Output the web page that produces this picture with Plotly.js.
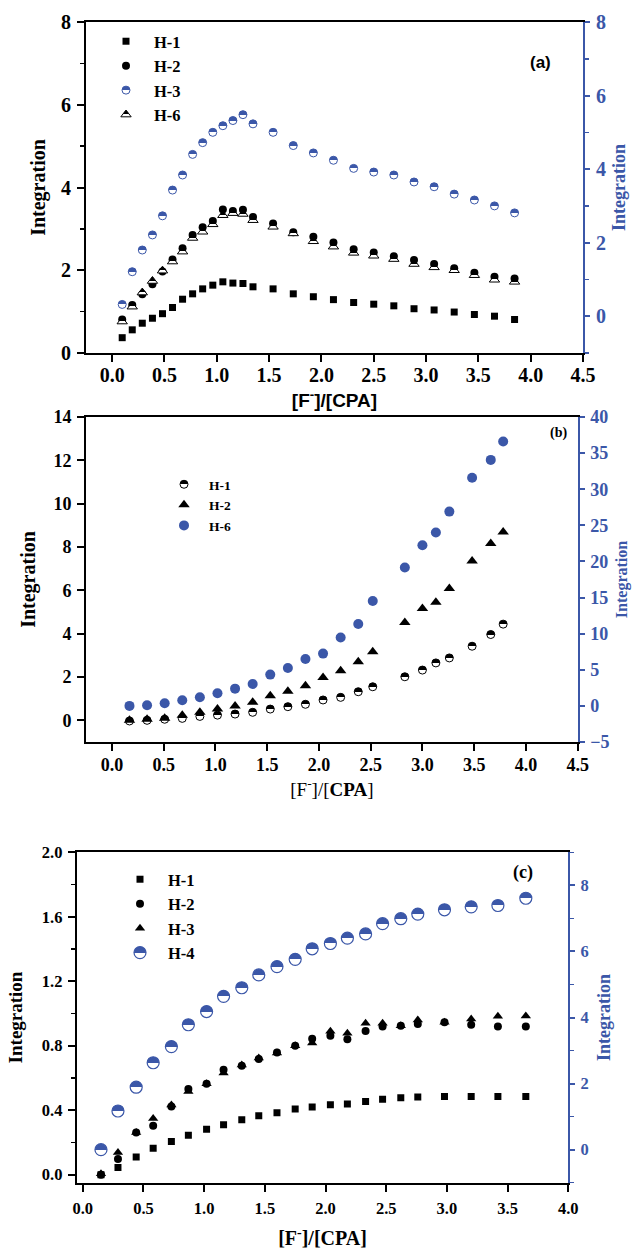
<!DOCTYPE html>
<html>
<head>
<meta charset="utf-8">
<script src="https://cdn.plot.ly/plotly-3.0.1.min.js"></script>
<style>
html,body{margin:0;padding:0;background:#fff;}
#chart{width:636px;height:1249px;}
</style>
</head>
<body>
<div id="chart"></div>
<script>
// ---------- Panel (a) ----------
const xA = [0.096,0.192,0.288,0.385,0.481,0.577,0.673,0.769,0.865,0.962,1.058,1.154,1.25,1.346,1.538,1.731,1.923,2.115,2.308,2.5,2.692,2.885,3.077,3.269,3.462,3.654,3.846];
const aH1 = [0.37,0.56,0.72,0.84,0.95,1.10,1.30,1.43,1.55,1.64,1.72,1.69,1.68,1.60,1.55,1.43,1.36,1.29,1.22,1.18,1.14,1.07,1.04,0.99,0.93,0.89,0.81];
const aH2 = [0.81,1.16,1.42,1.66,1.97,2.26,2.53,2.85,3.04,3.19,3.47,3.43,3.46,3.29,3.13,2.92,2.81,2.67,2.51,2.43,2.34,2.25,2.15,2.05,1.94,1.84,1.80];
const aH3 = [0.32,1.21,1.80,2.21,2.73,3.43,3.84,4.40,4.72,5.00,5.18,5.32,5.48,5.23,5.00,4.64,4.44,4.24,4.02,3.92,3.84,3.65,3.52,3.32,3.16,3.00,2.81];
const aH6 = [0.76,1.12,1.46,1.74,1.99,2.21,2.45,2.78,2.93,3.11,3.33,3.38,3.36,3.21,3.05,2.89,2.70,2.57,2.42,2.35,2.27,2.15,2.07,2.00,1.88,1.77,1.72];

// ---------- Panel (b) ----------
const xB = [0.17,0.34,0.51,0.68,0.85,1.02,1.19,1.36,1.53,1.70,1.87,2.04,2.21,2.38,2.52,2.83,3.00,3.13,3.26,3.48,3.66,3.78];
const bH1 = [-0.03,0.00,0.05,0.09,0.18,0.24,0.29,0.37,0.52,0.63,0.74,0.94,1.06,1.32,1.55,2.01,2.32,2.65,2.88,3.42,3.96,4.44];
const bH2 = [0.00,0.05,0.10,0.24,0.37,0.52,0.66,0.84,1.13,1.34,1.60,1.98,2.29,2.70,3.16,4.52,5.16,5.45,6.08,7.35,8.16,8.69];
const bH6 = [0.00,0.08,0.36,0.78,1.19,1.74,2.39,3.04,4.33,5.25,6.50,7.24,9.46,11.34,14.53,19.15,22.24,24.00,26.90,31.60,34.06,36.60];

// ---------- Panel (c) ----------
const xC = [0.15,0.29,0.44,0.58,0.73,0.87,1.02,1.16,1.31,1.45,1.60,1.75,1.89,2.04,2.18,2.33,2.47,2.62,2.76,2.98,3.20,3.42,3.65];
const cH1 = [0.000,0.045,0.110,0.163,0.205,0.244,0.281,0.310,0.341,0.366,0.384,0.407,0.420,0.434,0.438,0.454,0.467,0.477,0.481,0.485,0.485,0.485,0.485];
const cH2 = [0.000,0.097,0.262,0.304,0.423,0.531,0.564,0.651,0.676,0.717,0.758,0.800,0.843,0.862,0.840,0.892,0.919,0.924,0.934,0.945,0.930,0.919,0.919];
const cH3 = [0.006,0.138,0.262,0.349,0.432,0.516,0.564,0.630,0.680,0.723,0.754,0.800,0.817,0.889,0.878,0.940,0.940,0.924,0.960,0.945,0.965,0.983,0.985];
const cH4 = [0.00,1.17,1.89,2.63,3.12,3.78,4.18,4.64,4.90,5.29,5.54,5.76,6.08,6.24,6.40,6.53,6.84,6.99,7.13,7.26,7.35,7.39,7.61];

const yTitle = 'Integration';
const BLUE = '#3b57a8';
const SERIF = '"Liberation Serif", "Times New Roman", Times, serif';
const SANS = '"Liberation Sans", Arial, Helvetica, sans-serif';
const W = 636, H = 1249;
const px = v => v / W;
const py = v => 1 - v / H;

function ax(color, size, extra) {
  return Object.assign({
    showline: true, linewidth: 2, linecolor: color,
    ticks: 'outside', ticklen: 7, tickwidth: 2, tickcolor: color,
    tickfont: {family: SERIF, size: size, color: color, weight: 700},
    showgrid: false, zeroline: false, fixedrange: true,
    ticklabelstandoff: 2
  }, extra);
}
function minor(color, d) {
  return {dtick: d, ticks: 'outside', ticklen: 4, tickwidth: 1.5, tickcolor: color, showgrid: false};
}

const data = [
  // (a)
  {x: xA, y: aH1, xaxis: 'x', yaxis: 'y', name: 'H-1', legend: 'legend', mode: 'markers', uid: 'a1',
   marker: {symbol: 'square', size: 7, color: '#000'}},
  {x: xA, y: aH2, xaxis: 'x', yaxis: 'y', name: 'H-2', legend: 'legend', mode: 'markers', uid: 'a2',
   marker: {symbol: 'circle', size: 8, color: '#000'}},
  {x: xA, y: aH3, xaxis: 'x', yaxis: 'y2', name: 'H-3', legend: 'legend', mode: 'markers', uid: 'a3',
   marker: {symbol: 'circle', size: 8, color: '#fff', line: {color: BLUE, width: 1}}},
  {x: xA, y: aH6, xaxis: 'x', yaxis: 'y', name: 'H-6', legend: 'legend', mode: 'markers', uid: 'a6',
   marker: {symbol: 'triangle-up', size: 9, color: '#fff', line: {color: '#000', width: 1}}},
  // (b)
  {x: xB, y: bH1, xaxis: 'x2', yaxis: 'y3', name: 'H-1', legend: 'legend2', mode: 'markers', uid: 'b1',
   marker: {symbol: 'circle', size: 8, color: '#fff', line: {color: '#000', width: 1}}},
  {x: xB, y: bH2, xaxis: 'x2', yaxis: 'y3', name: 'H-2', legend: 'legend2', mode: 'markers', uid: 'b2',
   marker: {symbol: 'triangle-up', size: 10, color: '#000'}},
  {x: xB, y: bH6, xaxis: 'x2', yaxis: 'y4', name: 'H-6', legend: 'legend2', mode: 'markers', uid: 'b6',
   marker: {symbol: 'circle', size: 10, color: BLUE}},
  // (c)
  {x: xC, y: cH1, xaxis: 'x3', yaxis: 'y5', name: 'H-1', legend: 'legend3', mode: 'markers', uid: 'c1',
   marker: {symbol: 'square', size: 7, color: '#000'}},
  {x: xC, y: cH2, xaxis: 'x3', yaxis: 'y5', name: 'H-2', legend: 'legend3', mode: 'markers', uid: 'c2',
   marker: {symbol: 'circle', size: 8, color: '#000'}},
  {x: xC, y: cH3, xaxis: 'x3', yaxis: 'y5', name: 'H-3', legend: 'legend3', mode: 'markers', uid: 'c3',
   marker: {symbol: 'triangle-up', size: 9, color: '#000'}},
  {x: xC, y: cH4, xaxis: 'x3', yaxis: 'y6', name: 'H-4', legend: 'legend3', mode: 'markers', uid: 'c4',
   marker: {symbol: 'circle', size: 12, color: '#fff', line: {color: BLUE, width: 1.2}}}
];

function legendCfg(x, y, size, iw) {
  return {x: x, y: y, xanchor: 'left', yanchor: 'top', bgcolor: 'rgba(0,0,0,0)', borderwidth: 0,
          font: {family: SERIF, size: size, color: '#000', weight: 'bold'}, itemwidth: iw, tracegroupgap: 0};
}

const layout = {
  width: W, height: H,
  margin: {l: 0, r: 0, t: 0, b: 0},
  paper_bgcolor: '#fff', plot_bgcolor: '#fff',
  showlegend: true,
  // ----- (a)
  xaxis: ax('#000', 20, {domain: [px(86), px(583)], anchor: 'y', range: [-0.25, 4.5], tick0: 0, dtick: 0.5,
    tickformat: '.1f', mirror: true, ticklabelstandoff: -4,
    title: {text: '[F<sup>-</sup>]/[CPA]', font: {family: SANS, size: 19, weight: 'bold', color: '#000'}, standoff: 9}}),
  yaxis: ax('#000', 20, {domain: [py(353), py(22)], anchor: 'x', range: [0, 8], tick0: 0, dtick: 2,
    minor: minor('#000', 1),
    title: {text: yTitle, font: {family: SERIF, size: 20, weight: 'bold', color: '#000'}, standoff: 10}}),
  yaxis2: ax(BLUE, 20, {overlaying: 'y', side: 'right', anchor: 'x', range: [-1, 8], tick0: 0, dtick: 2,
    minor: minor(BLUE, 1), ticklen: 5,
    title: {text: yTitle, font: {family: SERIF, size: 18, weight: 'bold', color: BLUE}, standoff: 7}}),
  // ----- (b)
  xaxis2: ax('#000', 18, {domain: [px(86), px(577.7)], anchor: 'y3', range: [-0.25, 4.5], tick0: 0, dtick: 0.5,
    tickformat: '.1f', mirror: true, ticklabelstandoff: -2,
    title: {text: '[F<sup>-</sup>]/[<b>CPA</b>]', font: {family: SERIF, size: 19, color: '#000'}, standoff: 9}}),
  yaxis3: ax('#000', 18, {domain: [py(742), py(417)], anchor: 'x2', range: [-1, 14], tick0: 0, dtick: 2,
    title: {text: yTitle, font: {family: SERIF, size: 20, weight: 'bold', color: '#000'}, standoff: 12}}),
  yaxis4: ax(BLUE, 18, {overlaying: 'y3', side: 'right', anchor: 'x2', range: [-5, 40], tick0: 0, dtick: 5,
    ticklen: 5,
    title: {text: yTitle, font: {family: SERIF, size: 16, weight: 'bold', color: BLUE}, standoff: 7}}),
  // ----- (c)
  xaxis3: ax('#000', 16.5, {domain: [px(76.7), px(568.3)], anchor: 'y5', range: [-0.05, 4.0], tick0: 0, dtick: 0.5,
    tickformat: '.1f', mirror: true,
    title: {text: '[F<sup>-</sup>]/[CPA]', font: {family: SERIF, size: 20, weight: 'bold', color: '#000'}, standoff: 18}}),
  yaxis5: ax('#000', 16.5, {domain: [py(1182.7), py(852.3)], anchor: 'x3', range: [-0.05, 2.0], tick0: 0, dtick: 0.4,
    tickformat: '.1f', minor: minor('#000', 0.2),
    title: {text: yTitle, font: {family: SERIF, size: 19, weight: 'bold', color: '#000'}, standoff: 14}}),
  yaxis6: ax(BLUE, 16.5, {overlaying: 'y5', side: 'right', anchor: 'x3', range: [-1, 9], tick0: 0, dtick: 2,
    minor: minor(BLUE, 1), ticklen: 5,
    title: {text: yTitle, font: {family: SERIF, size: 18, weight: 'bold', color: BLUE}, standoff: 10}}),
  legend: legendCfg(px(98), py(24), 16.5, 46),
  legend2: legendCfg(px(159), py(469), 13.5, 40),
  legend3: legendCfg(px(112), py(862), 16.5, 46),
  annotations: [
    {text: '(a)', x: px(540), y: py(63), xref: 'paper', yref: 'paper', xanchor: 'center', yanchor: 'middle', showarrow: false,
     font: {family: SANS, size: 17, weight: 'bold', color: '#000'}},
    {text: '(b)', x: px(558), y: py(433), xref: 'paper', yref: 'paper', xanchor: 'center', yanchor: 'middle', showarrow: false,
     font: {family: SERIF, size: 14, weight: 'bold', color: '#000'}},
    {text: '(c)', x: px(523), y: py(872), xref: 'paper', yref: 'paper', xanchor: 'center', yanchor: 'middle', showarrow: false,
     font: {family: SERIF, size: 18, weight: 'bold', color: '#000'}}
  ]
};

// half-filled markers (upper half coloured)
const halfFill = {a3: ['hfBlue', BLUE, 0.5], a6: ['hfBlackTri', '#000', 0.62], b1: ['hfBlack', '#000', 0.5], c4: ['hfBlue', BLUE, 0.5]};

Plotly.newPlot('chart', data, layout, {staticPlot: true, displayModeBar: false}).then(function (gd) {
  const NS = 'http://www.w3.org/2000/svg';
  const svg = gd.querySelector('svg.main-svg');
  let defs = svg.querySelector('defs');
  if (!defs) { defs = document.createElementNS(NS, 'defs'); svg.insertBefore(defs, svg.firstChild); }
  const made = {};
  Object.keys(halfFill).forEach(function (uid) {
    const [id, color, split] = halfFill[uid];
    if (made[id]) return;
    made[id] = true;
    const g = document.createElementNS(NS, 'linearGradient');
    g.setAttribute('id', id);
    g.setAttribute('x1', '0'); g.setAttribute('y1', '0'); g.setAttribute('x2', '0'); g.setAttribute('y2', '1');
    [[0, color], [split, color], [split, '#ffffff'], [1, '#ffffff']].forEach(function (s) {
      const st = document.createElementNS(NS, 'stop');
      st.setAttribute('offset', s[0]);
      st.setAttribute('stop-color', s[1]);
      g.appendChild(st);
    });
    defs.appendChild(g);
  });
  gd.querySelectorAll('g.trace.scatter').forEach(function (tg) {
    const d = tg.__data__;
    const uid = d && d[0] && d[0].trace && d[0].trace.uid;
    if (uid && halfFill[uid]) {
      tg.querySelectorAll('path.point').forEach(function (p) { p.style.fill = 'url(#' + halfFill[uid][0] + ')'; });
    }
  });
  gd.querySelectorAll('g.traces').forEach(function (tg) {
    const d = tg.__data__;
    const uid = d && d[0] && d[0].trace && d[0].trace.uid;
    if (uid && halfFill[uid]) {
      tg.querySelectorAll('path.scatterpts').forEach(function (p) { p.style.fill = 'url(#' + halfFill[uid][0] + ')'; });
    }
  });
});
</script>
</body>
</html>
